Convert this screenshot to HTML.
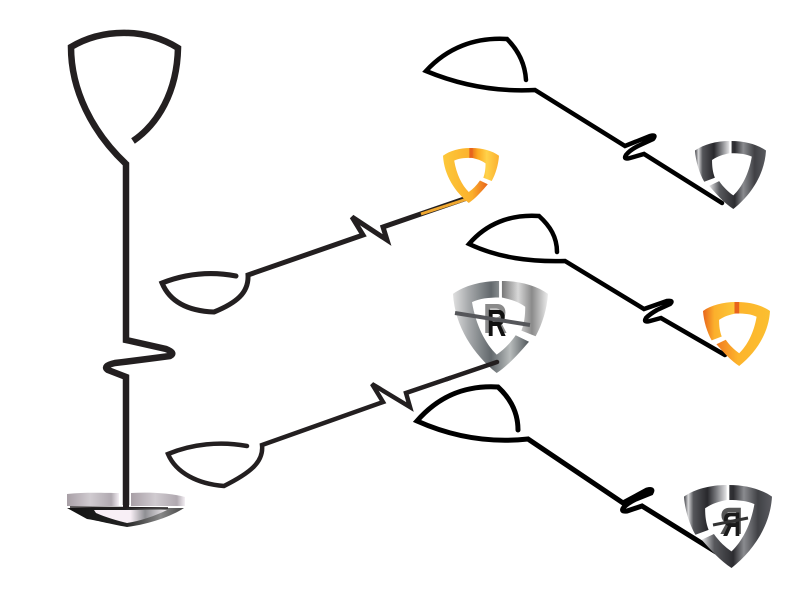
<!DOCTYPE html>
<html><head><meta charset="utf-8"><style>html,body{margin:0;padding:0;background:#fff}svg{display:block}</style></head>
<body>
<svg width="800" height="600" viewBox="0 0 800 600" xmlns="http://www.w3.org/2000/svg">
<defs>
<linearGradient id="gA"><stop offset="0" stop-color="#3c3d42"/><stop offset=".1" stop-color="#d8d8da"/><stop offset=".22" stop-color="#55565a"/><stop offset=".55" stop-color="#28282c"/><stop offset=".75" stop-color="#77787c"/><stop offset="1" stop-color="#e5e5e7"/></linearGradient>
<linearGradient id="gB"><stop offset="0" stop-color="#e8e8ea"/><stop offset=".18" stop-color="#58595d"/><stop offset=".45" stop-color="#2c2c30"/><stop offset=".6" stop-color="#8a8b8f"/><stop offset=".8" stop-color="#404145"/><stop offset="1" stop-color="#5a5b60"/></linearGradient>
<linearGradient id="oA"><stop offset="0" stop-color="#e8641c"/><stop offset=".35" stop-color="#fbb02c"/><stop offset="1" stop-color="#fdc83a"/></linearGradient>
<linearGradient id="oB"><stop offset="0" stop-color="#fbb030"/><stop offset=".45" stop-color="#ffd24a"/><stop offset=".8" stop-color="#fba61e"/><stop offset="1" stop-color="#e8711c"/></linearGradient>
<linearGradient id="oC"><stop offset="0" stop-color="#f07a20"/><stop offset=".4" stop-color="#fdb42c"/><stop offset="1" stop-color="#fbbf30"/></linearGradient>
<linearGradient id="sA"><stop offset="0" stop-color="#50565a"/><stop offset=".25" stop-color="#b8bcbc"/><stop offset=".5" stop-color="#62686c"/><stop offset=".8" stop-color="#a8abad"/><stop offset="1" stop-color="#e0e0e0"/></linearGradient>
<linearGradient id="sB"><stop offset="0" stop-color="#ececec"/><stop offset=".35" stop-color="#8a8a8a"/><stop offset=".65" stop-color="#d8d8d8"/><stop offset="1" stop-color="#777"/></linearGradient>
<linearGradient id="dA"><stop offset="0" stop-color="#a89fa6"/><stop offset=".45" stop-color="#d0cbd0"/><stop offset=".85" stop-color="#b0a9b0"/><stop offset="1" stop-color="#f4eff4"/></linearGradient>
<linearGradient id="dB"><stop offset="0" stop-color="#f8eff6"/><stop offset=".5" stop-color="#f8eff6"/><stop offset=".7" stop-color="#8f8f93"/><stop offset="1" stop-color="#f2edf1"/></linearGradient>
<linearGradient id="dC"><stop offset="0" stop-color="#111"/><stop offset=".5" stop-color="#222"/><stop offset=".8" stop-color="#888"/><stop offset="1" stop-color="#444"/></linearGradient>
<path id="pl" d="M48.5,0 C30,0 12,5 0,14 C1,30 6,47 13,60 L28,54 C25,46 24,38 24,28 C32,22 40,20 48.5,18 Z"/>
<path id="pr" d="M51.5,0 C70,0 88,5 100,14 C98,50 78,80 54,100 C42,92 30,78 20,66 L34,59 C40,68 47,75 54,80 C66,68 76,48 80,23 C72,19 62,18 51.5,18 Z"/>
</defs>

<g fill="none" stroke="#231f20" stroke-linejoin="miter">
<path d="M133,141 C158,124 177,92 178,48 C146,28 103,28 71,47 C71,90 92,132 126,164 V340 L166,349 Q176,353 170,356 Q140,360 115,363 Q102,366 108,370 L126,377 V505" stroke-width="6.5"/>
<path d="M236,276 C210,271 185,274 162,283 C170,302 188,311 214,312 C236,303 249,293 248,275 L363,235 L352,217 L387,240 L383,227 L470,197" stroke-width="5" stroke-linecap="round"/>
<path d="M247,446 C220,441 192,444 168,454 C176,473 198,484 224,486 C250,473 264,462 262,445 L383,402 L372,384 L410,407 L406,393 L450,378" stroke-width="4.5" stroke-linecap="round"/>
</g>
<path d="M421,214 L470,198" stroke="#f0a830" stroke-width="3" fill="none"/>

<g fill="none" stroke="#000" stroke-linecap="round">
<path d="M526,80 C525,63 518,50 507,39 C475,37 447,48 426,71 C462,86 497,92 535,90 L625,146 L650,136 Q657,134 653,139 L638,146 Q630,150 626,155 Q623,160 630,158 L644,154 L722,203" stroke-width="4.5"/>
<path d="M557,252 C557,237 550,226 539,216 C510,214 486,224 469,244 C499,258 531,262 565,261 L644,309 L667,301 Q674,300 670,304 L657,310 Q650,314 646,318 Q643,323 650,321 L661,318 L725,355" stroke-width="4.5"/>
<path d="M518,430 C518,412 510,398 498,387 C464,385 438,397 417,421 C455,438 491,443 528,439 L623,503 L647,490 Q654,488 651,493 L636,499 Q628,503 624,507 Q620,512 627,511 L642,506 L716,552" stroke-width="5"/>
</g>

<!-- orange 1, mirrored, gap on right -->
<g transform="translate(499,148) scale(-.56,.55)"><use href="#pl" fill="url(#oB)"/><use href="#pr" fill="url(#oA)"/><rect x="47" y="0" width="6" height="18" fill="#e8641c"/></g>

<!-- grey 1 -->
<g transform="translate(695,141) scale(.71,.68)"><use href="#pl" fill="url(#gA)"/><use href="#pr" fill="url(#gB)"/></g>

<!-- orange 2 -->
<g transform="translate(703,302) scale(.67,.64)"><use href="#pl" fill="url(#oA)"/><use href="#pr" fill="url(#oC)"/><rect x="47" y="0" width="7" height="18" fill="#e8641c"/></g>

<!-- big R -->
<g transform="translate(548,281) scale(-.95,.92)"><use href="#pl" fill="url(#sB)"/><use href="#pr" fill="url(#sA)"/></g>
<text transform="translate(483,333) scale(.8,1)" font-family="Liberation Sans, sans-serif" font-weight="bold" font-size="42" fill="#8a8a8a">R</text>
<text transform="translate(487,336) scale(.7,1)" font-family="Liberation Sans, sans-serif" font-weight="bold" font-size="38" fill="#111">R</text>
<path d="M455,313 L530,325" stroke="#55565a" stroke-width="4"/>
<path d="M446,379.4 L497,362" stroke="#231f20" stroke-width="4.5" stroke-linecap="round"/>

<!-- grey R -->
<g transform="translate(684,485) scale(.88,.83)"><use href="#pl" fill="url(#gA)"/><use href="#pr" fill="url(#gB)"/></g>
<text transform="translate(743,534) scale(-.85,1)" font-family="Liberation Sans, sans-serif" font-weight="bold" font-size="38" fill="#555">R</text>
<text transform="translate(741,536) scale(-.75,1)" font-family="Liberation Sans, sans-serif" font-weight="bold" font-size="34" fill="#1a1a1a">R</text>
<path d="M713,525 L748,518" stroke="#333" stroke-width="3"/>

<!-- dish -->
<path d="M67,494 C85,492 105,493 119,493 V506 H67Z" fill="url(#dA)"/>
<path d="M131,493 C150,492 170,493 185,497 V506 H131Z" fill="url(#dA)"/>
<path d="M67,508 L184,508 C172,516 150,524 127,527 C110,524 95,520 87,519 Z" fill="url(#dC)"/>
<path d="M94,510 L167,510 C155,516 140,521 127,523 C118,521 105,517 96,513Z" fill="url(#dB)"/>
<path d="M126,505 V508" stroke="#231f20" stroke-width="6"/>
<path d="M70,507 L168,508" stroke="#231f20" stroke-width="1.5"/>
</svg>
</body></html>
